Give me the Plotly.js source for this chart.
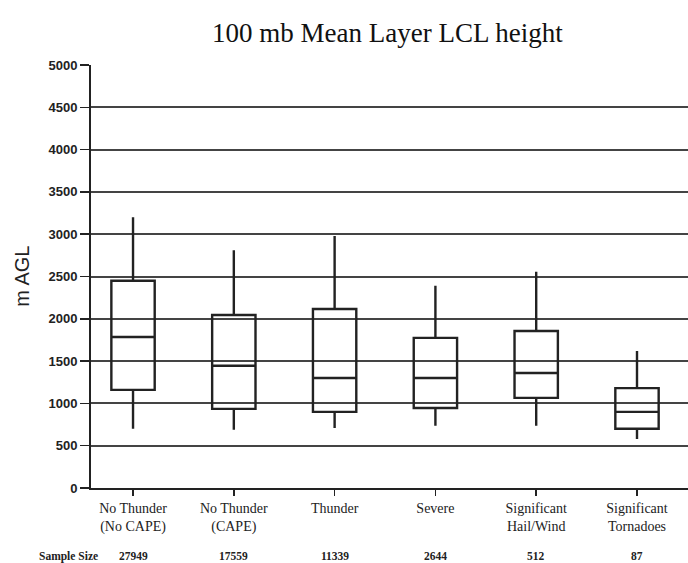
<!DOCTYPE html>
<html>
<head>
<meta charset="utf-8">
<script src="https://cdn.plot.ly/plotly-3.0.1.min.js"></script>
<style>html,body{margin:0;padding:0;background:#fff;}#chart{width:688px;height:563px;}</style>
</head>
<body>
<div id="chart"></div>
<script>
var categories = ["No Thunder<br>(No CAPE)", "No Thunder<br>(CAPE)", "Thunder", "Severe", "Significant<br>Hail/Wind", "Significant<br>Tornadoes"];
var sampleSizes = ["27949", "17559", "11339", "2644", "512", "87"];
var lowerWhisker = [700, 690, 710, 735, 735, 580];
var q1 = [1160, 935, 900, 945, 1065, 700];
var median = [1785, 1445, 1300, 1300, 1360, 900];
var q3 = [2450, 2045, 2115, 1775, 1855, 1180];
var upperWhisker = [3200, 2810, 2980, 2390, 2555, 1620];
var yTicks = [0, 500, 1000, 1500, 2000, 2500, 3000, 3500, 4000, 4500, 5000];

var pos = categories.map(function(c, i){ return i; });

var trace = {
  type: 'box',
  x: pos,
  q1: q1,
  median: median,
  q3: q3,
  lowerfence: lowerWhisker,
  upperfence: upperWhisker,
  width: 0.43,
  whiskerwidth: 0,
  boxpoints: false,
  fillcolor: 'rgba(0,0,0,0)',
  line: {color: '#222', width: 2.4},
  hoverinfo: 'skip',
  showlegend: false
};

var sampleFont = {family: 'Liberation Serif, serif', size: 11.5, color: '#222', weight: 'bold'};
var annotations = sampleSizes.map(function(s, i){
  return {text: s, x: i, xref: 'x', y: -0.161, yref: 'paper', yanchor: 'middle', xanchor: 'center',
          showarrow: false, font: sampleFont};
});
annotations.push({text: 'Sample Size', x: -0.037, xref: 'paper', y: -0.161, yref: 'paper', yanchor: 'middle', xanchor: 'center',
  showarrow: false, font: sampleFont});
annotations.push({text: 'm AGL', x: -0.117, xref: 'paper', y: 0.5, yref: 'paper', xanchor: 'center', yanchor: 'middle',
  textangle: -90, showarrow: false, font: {family: 'Liberation Sans, Arial, sans-serif', size: 20, color: '#222'}});

var layout = {
  width: 688, height: 563,
  margin: {l: 91, r: 0, t: 65, b: 75},
  paper_bgcolor: '#fff', plot_bgcolor: '#fff',
  title: {text: '100 mb Mean Layer LCL height', x: 0.563, xref: 'container', xanchor: 'center',
          y: 0.943, yref: 'container', yanchor: 'middle',
          font: {family: 'Liberation Serif, Times New Roman, serif', size: 27, color: '#111'}},
  xaxis: {
    range: [-0.417, 5.506], tickvals: pos, ticktext: categories,
    ticks: 'outside', ticklen: 6, tickwidth: 1.5, tickcolor: '#222',
    showline: true, linecolor: '#222', linewidth: 2,
    showgrid: false, zeroline: false,
    tickfont: {family: 'Liberation Serif, Times New Roman, serif', size: 14, color: '#222'}
  },
  yaxis: {
    range: [0, 5000], tickvals: yTicks,
    ticks: 'outside', ticklen: 9, tickwidth: 1.5, tickcolor: '#222',
    showline: true, linecolor: '#222', linewidth: 2,
    showgrid: true, gridcolor: '#444', gridwidth: 2,
    zeroline: false,
    tickfont: {family: 'Liberation Sans, Arial, sans-serif', size: 13, color: '#222', weight: 'bold'}
  },
  annotations: annotations
};

Plotly.newPlot('chart', [trace], layout, {displayModeBar: false, staticPlot: true});
</script>
</body>
</html>
